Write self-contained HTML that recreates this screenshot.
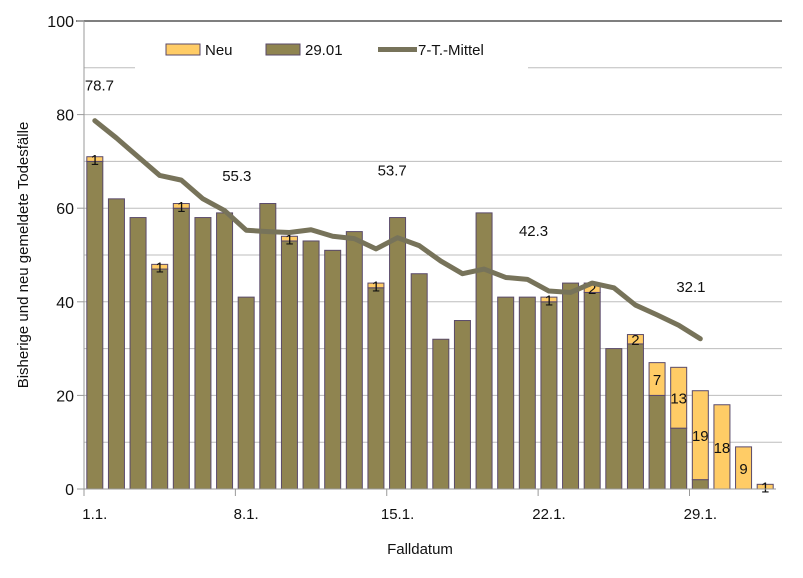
<!DOCTYPE html>
<html><head><meta charset="utf-8"><style>
body{margin:0;background:#fff;width:803px;height:573px;overflow:hidden}
text{font-family:"Liberation Sans",sans-serif}
</style></head><body>
<svg id="chart" width="803" height="573" xmlns="http://www.w3.org/2000/svg"></svg>
<script>
const categories=["1.1.","2.1.","3.1.","4.1.","5.1.","6.1.","7.1.","8.1.","9.1.","10.1.","11.1.","12.1.","13.1.","14.1.","15.1.","16.1.","17.1.","18.1.","19.1.","20.1.","21.1.","22.1.","23.1.","24.1.","25.1.","26.1.","27.1.","28.1.","29.1.","30.1.","31.1.","1.2."];
const baseValues=[70,62,58,47,60,58,59,41,61,53,53,51,55,43,58,46,32,36,59,41,41,40,44,42,30,31,20,13,2,0,0,0];
const newValues=[1,0,0,1,1,0,0,0,0,1,0,0,0,1,0,0,0,0,0,0,0,1,0,2,0,2,7,13,19,18,9,1];
const meanValues=[78.7,75,71,67,66,62,59.5,55.3,55,54.8,55.4,54,53.5,51.3,53.7,52,48.7,46,47,45.2,44.8,42.3,42,44,43,39.3,37.2,35,32.1];
const meanLabelIdx=[0,7,14,21,28];
const yTicks=[0,20,40,60,80,100];
const xLabelIdx=[0,7,14,21,28];
const xLabels=["1.1.","8.1.","15.1.","22.1.","29.1."];

const NS="http://www.w3.org/2000/svg";
const svgEl=document.getElementById('chart');
const PL=84,PR=776,PT=21,PB=489,nCat=categories.length,slot=(PR-PL)/nCat,bw=16;
const xPos=i=>PL+(i+0.5)*slot;
const yPos=v=>PB-(v/100)*(PB-PT);
function mk(tag,attrs,parent){const e=document.createElementNS(NS,tag);for(const k in attrs)e.setAttribute(k,attrs[k]);(parent||svgEl).appendChild(e);return e;}

const grid=mk('g',{});


for(let v=10;v<100;v+=10){mk('line',{x1:PL,x2:PR+6,y1:yPos(v),y2:yPos(v),stroke:'#bdbdbd','stroke-width':1},grid);}
const topBorder=mk('line',{x1:PL-8,x2:PR+6,y1:PT,y2:PT,stroke:'#555','stroke-width':1.5});



const lg=mk('g',{});


mk('rect',{x:135,y:22,width:393,height:47,fill:'#fff'},lg);
const e1=mk('g',{},lg);


mk('rect',{x:166,y:44,width:34,height:11,fill:'#ffcc66',stroke:'#5a4a6a'},e1);
const t1=mk('text',{x:205,y:55,'font-size':15,fill:'#111'},e1);t1.textContent='Neu';
const e2=mk('g',{},lg);


mk('rect',{x:266,y:44,width:34,height:11,fill:'#8f8450',stroke:'#5a4a6a'},e2);
const t2=mk('text',{x:305,y:55,'font-size':15,fill:'#111'},e2);t2.textContent='29.01';
const e3=mk('g',{},lg);


mk('line',{x1:378,x2:417,y1:49.5,y2:49.5,stroke:'#77735a','stroke-width':5},e3);
const t3=mk('text',{x:418,y:55,'font-size':15,fill:'#111'},e3);t3.textContent='7-T.-Mittel';

const barGroup=mk('g',{});


categories.forEach((c,i)=>{
  const cx=xPos(i)-bw/2;
  if(baseValues[i]>0){
    const r=mk('rect',{x:cx,y:yPos(baseValues[i]),width:bw,height:yPos(0)-yPos(baseValues[i]),fill:'#8f8450',stroke:'#5a4a6a','stroke-width':1},barGroup);
    
    
  }
  if(newValues[i]>0){
    const tv=baseValues[i]+newValues[i];
    const r=mk('rect',{x:cx,y:yPos(tv),width:bw,height:yPos(baseValues[i])-yPos(tv),fill:'#ffcc66',stroke:'#5a4a6a','stroke-width':1},barGroup);
    
    
    const t=mk('text',{x:xPos(i),y:(yPos(tv)+yPos(baseValues[i]))/2+6,'font-size':15,'text-anchor':'middle',fill:'#111'},barGroup);
    t.textContent=newValues[i];
    
    
  }
});

const pts=meanValues.map((v,i)=>xPos(i)+','+yPos(v)).join(' ');
const pl=mk('polyline',{points:pts,fill:'none',stroke:'#77735a','stroke-width':5,'stroke-linejoin':'round','stroke-linecap':'round'});


const labelPos={0:[-10,30],7:[-24,49],14:[-20,62],21:[-30,55],28:[-24,47]};
meanLabelIdx.forEach(i=>{
  const t=mk('text',{x:xPos(i)+labelPos[i][0],y:yPos(meanValues[i])-labelPos[i][1],'font-size':15,fill:'#111'});
  t.textContent=meanValues[i].toFixed(1);
  
  
});

const ax=mk('g',{});


mk('line',{x1:PL,x2:PL,y1:PT,y2:PB,stroke:'#999','stroke-width':1},ax);
mk('line',{x1:PL,x2:PR,y1:PB,y2:PB,stroke:'#999','stroke-width':1},ax);
yTicks.forEach(v=>{
  mk('line',{x1:PL-7,x2:PL,y1:yPos(v),y2:yPos(v),stroke:'#999'},ax);
  const t=mk('text',{x:PL-10,y:yPos(v)+6,'font-size':16,'text-anchor':'end',fill:'#111'},ax);
  t.textContent=v;
  
  
});
xLabelIdx.forEach((i,k)=>{
  mk('line',{x1:PL+i*slot,x2:PL+i*slot,y1:PB,y2:PB+7,stroke:'#999'},ax);
  const t=mk('text',{x:xPos(i),y:PB+30,'font-size':15,'text-anchor':'middle',fill:'#111'},ax);
  t.textContent=xLabels[k];
  
  
});
const xt=mk('text',{x:420,y:554,'font-size':15,'text-anchor':'middle',fill:'#111'});
xt.textContent='Falldatum';


const yt=mk('text',{x:0,y:0,'font-size':15,'text-anchor':'middle',fill:'#111',transform:'translate(28,255) rotate(-90)'});
yt.textContent='Bisherige und neu gemeldete Todesfälle';


</script>
</body></html>
